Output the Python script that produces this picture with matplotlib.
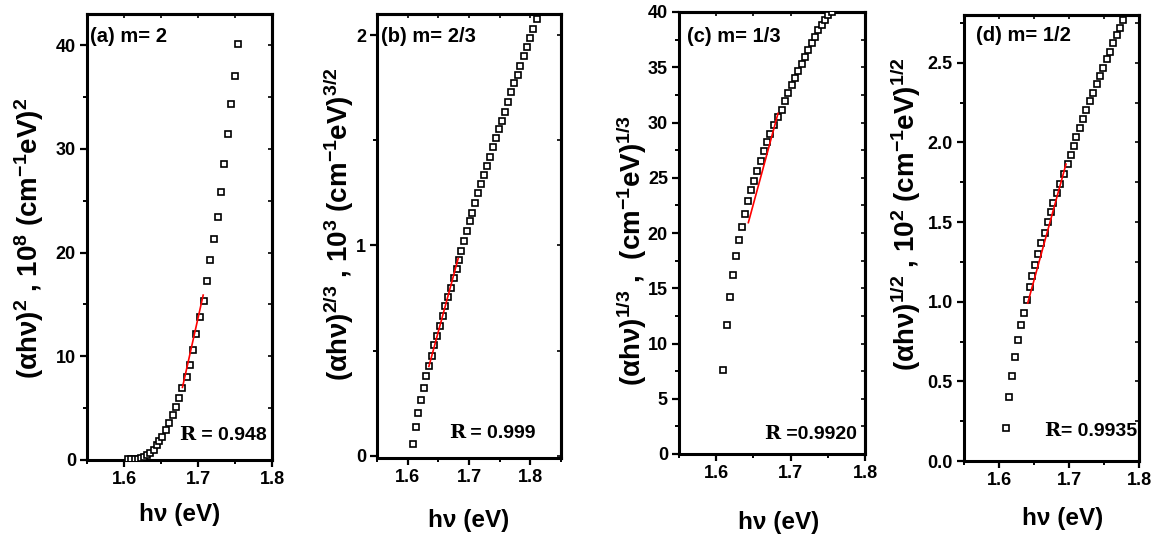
import matplotlib
matplotlib.use("Agg")
import matplotlib.pyplot as plt
from matplotlib.ticker import MultipleLocator

plt.rcParams['font.family'] = ['Liberation Sans', 'DejaVu Sans']
plt.rcParams['font.weight'] = 'bold'
plt.rcParams['mathtext.fontset'] = 'custom'
plt.rcParams['mathtext.rm'] = 'Liberation Sans:bold'
plt.rcParams['mathtext.bf'] = 'Liberation Sans:bold'
plt.rcParams['mathtext.it'] = 'Liberation Sans:bold'
plt.rcParams['mathtext.default'] = 'bf'

# ---- data ----
# (a) m = 2
hv_a = [1.6052, 1.6097, 1.6142, 1.6187, 1.6232, 1.6276, 1.6317, 1.6357, 1.6402,
        1.6443, 1.6478, 1.6519, 1.6568, 1.6613, 1.6658, 1.6703, 1.6748, 1.6788,
        1.6846, 1.6891, 1.6932, 1.6972, 1.7022, 1.7075, 1.7116, 1.7161, 1.7215,
        1.7264, 1.7309, 1.7354, 1.7399, 1.7452, 1.7497, 1.7542]
y_a = [0.07, 0.07, 0.10, 0.13, 0.20, 0.33, 0.49, 0.72, 0.99, 1.41, 1.81, 2.23,
       2.89, 3.55, 4.37, 5.09, 6.01, 6.96, 8.05, 9.13, 10.57, 12.18, 13.79, 15.37,
       17.24, 19.31, 21.35, 23.45, 25.88, 28.57, 31.46, 34.35, 37.04, 40.07]
fit_a_x = [1.679, 1.707]
fit_a_y = [7.0, 15.9]

# (b) m = 2/3
hv_b = [1.6089, 1.6132, 1.6175, 1.6218, 1.6261, 1.6298, 1.6346, 1.6389, 1.6437,
        1.6486, 1.6529, 1.6571, 1.6614, 1.6657, 1.6705, 1.6754, 1.6802, 1.6840,
        1.6866, 1.6920, 1.6973, 1.7016, 1.7054, 1.7096, 1.7150, 1.7193, 1.7241,
        1.7289, 1.7337, 1.7386, 1.7434, 1.7482, 1.7530, 1.7584, 1.7632, 1.7680,
        1.7739, 1.7793, 1.7836, 1.7895, 1.7943, 1.7997, 1.8050, 1.8104]
y_b = [0.057, 0.137, 0.202, 0.264, 0.323, 0.378, 0.425, 0.477, 0.525, 0.569,
       0.618, 0.663, 0.711, 0.757, 0.800, 0.844, 0.889, 0.932, 0.975, 1.023,
       1.070, 1.116, 1.156, 1.201, 1.248, 1.290, 1.334, 1.376, 1.420, 1.468,
       1.512, 1.552, 1.593, 1.636, 1.682, 1.727, 1.770, 1.811, 1.855, 1.900,
       1.943, 1.988, 2.029, 2.074]
fit_b_x = [1.6346, 1.6823]
fit_b_y = [0.425, 0.938]

# (c) m = 1/3
hv_c = [1.6091, 1.6141, 1.6181, 1.6221, 1.6262, 1.6306, 1.6347, 1.6392, 1.6432,
        1.6472, 1.6513, 1.6553, 1.6598, 1.6642, 1.6683, 1.6728, 1.6772, 1.6835,
        1.6880, 1.6925, 1.6970, 1.7014, 1.7059, 1.7104, 1.7149, 1.7194, 1.7238,
        1.7283, 1.7328, 1.7373, 1.7418, 1.7462, 1.7507, 1.7552]
y_c = [7.60, 11.68, 14.24, 16.22, 17.95, 19.40, 20.54, 21.71, 22.86, 23.88,
       24.71, 25.64, 26.56, 27.40, 28.20, 29.00, 29.75, 30.46, 31.13, 31.91,
       32.68, 33.39, 34.01, 34.63, 35.30, 35.92, 36.54, 37.22, 37.78, 38.33,
       38.86, 39.32, 39.72, 40.0]
fit_c_x = [1.6432, 1.6831]
fit_c_y = [20.94, 30.83]

# (d) m = 1/2
hv_d = [1.6101, 1.6138, 1.6186, 1.6228, 1.6271, 1.6308, 1.6355, 1.6398, 1.6440,
        1.6477, 1.6520, 1.6562, 1.6604, 1.6651, 1.6694, 1.6736, 1.6778, 1.6825,
        1.6872, 1.6929, 1.6980, 1.7023, 1.7065, 1.7107, 1.7154, 1.7201, 1.7248,
        1.7300, 1.7347, 1.7399, 1.7445, 1.7492, 1.7539, 1.7586, 1.7633, 1.7680,
        1.7727, 1.7774]
y_d = [0.209, 0.399, 0.534, 0.653, 0.759, 0.856, 0.931, 1.013, 1.095, 1.164,
       1.228, 1.297, 1.369, 1.433, 1.498, 1.563, 1.621, 1.681, 1.741, 1.800,
       1.864, 1.922, 1.978, 2.037, 2.091, 2.144, 2.203, 2.259, 2.310, 2.364,
       2.418, 2.470, 2.522, 2.569, 2.623, 2.672, 2.720, 2.767]
fit_d_x = [1.6410, 1.6957]
fit_d_y = [0.991, 1.864]

panel_tags = ["(a) m= 2", "(b) m= 2/3", "(c) m= 1/3", "(d) m= 1/2"]
r_values = [" = 0.948", " = 0.999", " =0.9920", "= 0.9935"]
y_titles = [r"(αhν)$^{2}$ , 10$^{8}$ (cm$^{-1}$eV)$^{2}$",
            r"(αhν)$^{2/3}$ , 10$^{3}$ (cm$^{-1}$eV)$^{3/2}$",
            r"(αhν)$^{1/3}$ ,  (cm$^{-1}$eV)$^{1/3}$",
            r"(αhν)$^{1/2}$ , 10$^{2}$ (cm$^{-1}$eV)$^{1/2}$"]
xs = [hv_a, hv_b, hv_c, hv_d]
ys = [y_a, y_b, y_c, y_d]
fits = [(fit_a_x, fit_a_y), (fit_b_x, fit_b_y), (fit_c_x, fit_c_y), (fit_d_x, fit_d_y)]

W, H = 1157, 535
# axes boxes in pixels: left, right, top, bottom
boxes = [(87, 272, 14, 460), (377, 561, 14, 458), (679, 865, 12, 454), (964, 1139, 15, 461)]
xlims = [(1.55, 1.8), (1.55, 1.85), (1.55, 1.8), (1.55, 1.8)]
ylims = [(0, 43), (-0.01, 2.1), (0, 40), (0, 2.8)]
ymaj = [10, 1, 5, 0.5]
yfmt = ["{:.0f}", "{:.0f}", "{:.0f}", "{:.1f}"]
ylab_pos = [(29, 238), (339, 224), (632, 250), (906, 214)]
xlab_pos = [(180, 515), (469, 520), (779, 522), (1063, 518)]
tag_pos = [(0.015, 0.97), (0.02, 0.97), (0.045, 0.965), (0.07, 0.975)]
r_pos = [(0.50, 0.045), (0.39, 0.045), (0.46, 0.035), (0.46, 0.055)]

fig = plt.figure(figsize=(W / 100, H / 100), dpi=100)

for i in range(4):
    l, r, t, b = boxes[i]
    ax = fig.add_axes([l / W, 1 - b / H, (r - l) / W, (b - t) / H])
    ax.plot(xs[i], ys[i], ls="none", marker="s", ms=4.8, mfc="white",
            mec="black", mew=1.2, zorder=3)
    ax.plot(fits[i][0], fits[i][1], color="red", lw=1.2, zorder=4)
    ax.set_xlim(*xlims[i])
    ax.set_ylim(*ylims[i])
    ax.xaxis.set_major_locator(MultipleLocator(0.1))
    ax.xaxis.set_minor_locator(MultipleLocator(0.05))
    ax.yaxis.set_major_locator(MultipleLocator(ymaj[i]))
    ax.yaxis.set_minor_locator(MultipleLocator(ymaj[i] / 2))
    fmt = yfmt[i]
    ax.yaxis.set_major_formatter(plt.FuncFormatter(lambda v, p, f=fmt: f.format(v)))
    ax.xaxis.set_major_formatter(plt.FuncFormatter(lambda v, p: f"{v:.1f}"))
    for sp in ax.spines.values():
        sp.set_linewidth(2.2)
    ax.tick_params(which="major", direction="out", length=5, width=1.6,
                   labelsize=13, pad=3)
    ax.tick_params(which="minor", direction="out", length=3, width=1.4)
    for lab in ax.get_xticklabels() + ax.get_yticklabels():
        lab.set_fontweight("bold")
    # inward ticks on the top and right frame
    top = ax.secondary_xaxis("top")
    top.xaxis.set_major_locator(MultipleLocator(0.1))
    top.xaxis.set_minor_locator(MultipleLocator(0.05))
    top.tick_params(which="both", direction="in", length=3, width=1.2, labeltop=False)
    right = ax.secondary_yaxis("right")
    right.yaxis.set_major_locator(MultipleLocator(ymaj[i]))
    right.yaxis.set_minor_locator(MultipleLocator(ymaj[i] / 2))
    right.tick_params(which="both", direction="in", length=3, width=1.2, labelright=False)
    for s in list(top.spines.values()) + list(right.spines.values()):
        s.set_linewidth(2.2)

    ax.text(*tag_pos[i], panel_tags[i], transform=ax.transAxes, fontsize=14.5,
            fontweight="bold", ha="left", va="top")
    rt = ax.text(*r_pos[i], "R", transform=ax.transAxes, fontsize=14,
                 fontweight="bold", family="DejaVu Serif", ha="left", va="baseline")
    ax.annotate(r_values[i], xy=(1, 0), xycoords=rt, fontsize=14,
                fontweight="bold", ha="left", va="bottom")

    fig.text(ylab_pos[i][0] / W, 1 - ylab_pos[i][1] / H, y_titles[i], rotation=90,
             ha="center", va="center", fontsize=20, fontweight="bold")
    fig.text(xlab_pos[i][0] / W, 1 - xlab_pos[i][1] / H, "hν (eV)",
             ha="center", va="center", fontsize=17.5, fontweight="bold")

fig.savefig("out.png", dpi=100)
